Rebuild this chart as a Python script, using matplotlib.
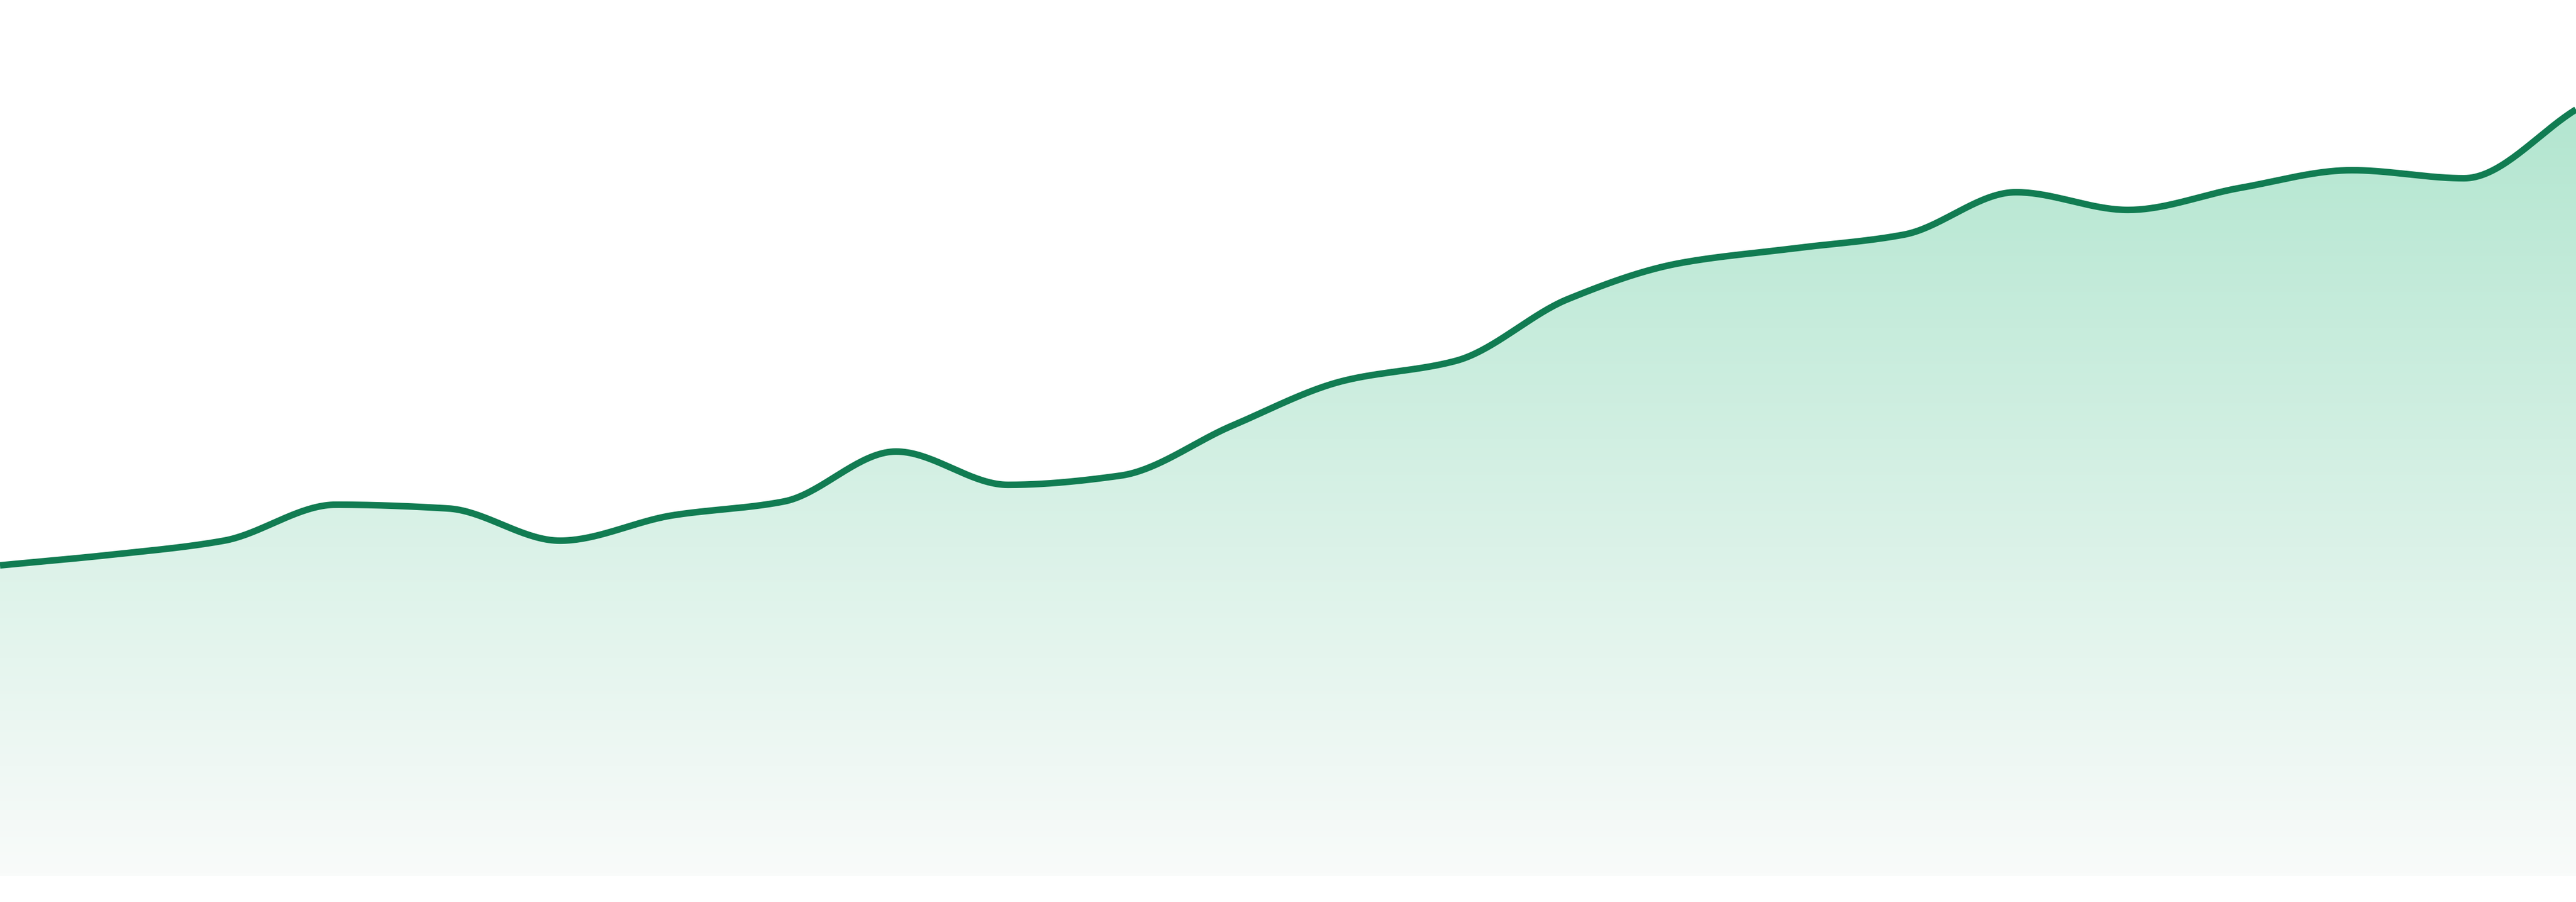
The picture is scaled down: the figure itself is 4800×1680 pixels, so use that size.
import matplotlib
matplotlib.use("Agg")
import matplotlib.pyplot as plt
import numpy as np

# values (one point per step, 24 steps)
steps = list(range(24))
values = [57.9, 59.9, 62.5, 69.2, 68.5, 62.5, 67.2, 69.8, 79.1, 72.9, 74.6, 83.9,
          92.3, 96.0, 107.5, 114.2, 116.9, 119.5, 127.4, 124.1, 128.2, 131.5, 130.0, 142.8]

line_color = "#117c52"
fill_top = (179, 230, 208)
fill_bottom = (249, 251, 250)


def monotone(x, y, n=40):
    # monotone cubic (Fritsch-Carlson) for a smooth line through the points
    x = np.asarray(x, float)
    y = np.asarray(y, float)
    h = np.diff(x)
    d = np.diff(y) / h
    m = np.zeros(len(x))
    m[0] = d[0]
    m[-1] = d[-1]
    for i in range(1, len(x) - 1):
        if d[i - 1] * d[i] <= 0:
            m[i] = 0
        else:
            m[i] = 3 * (h[i - 1] + h[i]) / ((2 * h[i] + h[i - 1]) / d[i - 1] + (h[i] + 2 * h[i - 1]) / d[i])
    xs, ys = [], []
    for i in range(len(x) - 1):
        t = np.linspace(0, 1, n, endpoint=(i == len(x) - 2))
        h00 = 2 * t**3 - 3 * t**2 + 1
        h10 = t**3 - 2 * t**2 + t
        h01 = -2 * t**3 + 3 * t**2
        h11 = t**3 - t**2
        xs.append(x[i] + t * h[i])
        ys.append(h00 * y[i] + h10 * h[i] * m[i] + h01 * y[i + 1] + h11 * h[i] * m[i + 1])
    return np.concatenate(xs), np.concatenate(ys)


xs, ys = monotone(steps, values)

fig = plt.figure(figsize=(48, 16.8), dpi=100)
ax = fig.add_axes([0, 0, 1, 1])
ax.set_xlim(0, 23)
ax.set_ylim(-4.8, 163.2)
ax.axis("off")

# gradient fill under the line
top = max(values)
grad = np.linspace(0, 1, 256)[:, None]
img = np.zeros((256, 1, 3))
for c in range(3):
    img[:, 0, c] = (fill_top[c] + (fill_bottom[c] - fill_top[c]) * grad[:, 0]) / 255
poly = ax.fill_between(xs, ys, 0, color="none", lw=0)
im = ax.imshow(img, extent=(0, 23, 0, top), aspect="auto", origin="upper", zorder=1)
path = poly.get_paths()[0]
im.set_clip_path(path, transform=ax.transData)

ax.plot(xs, ys, color=line_color, lw=8.8, solid_capstyle="butt", zorder=2)

fig.savefig("out.png", dpi=100)
